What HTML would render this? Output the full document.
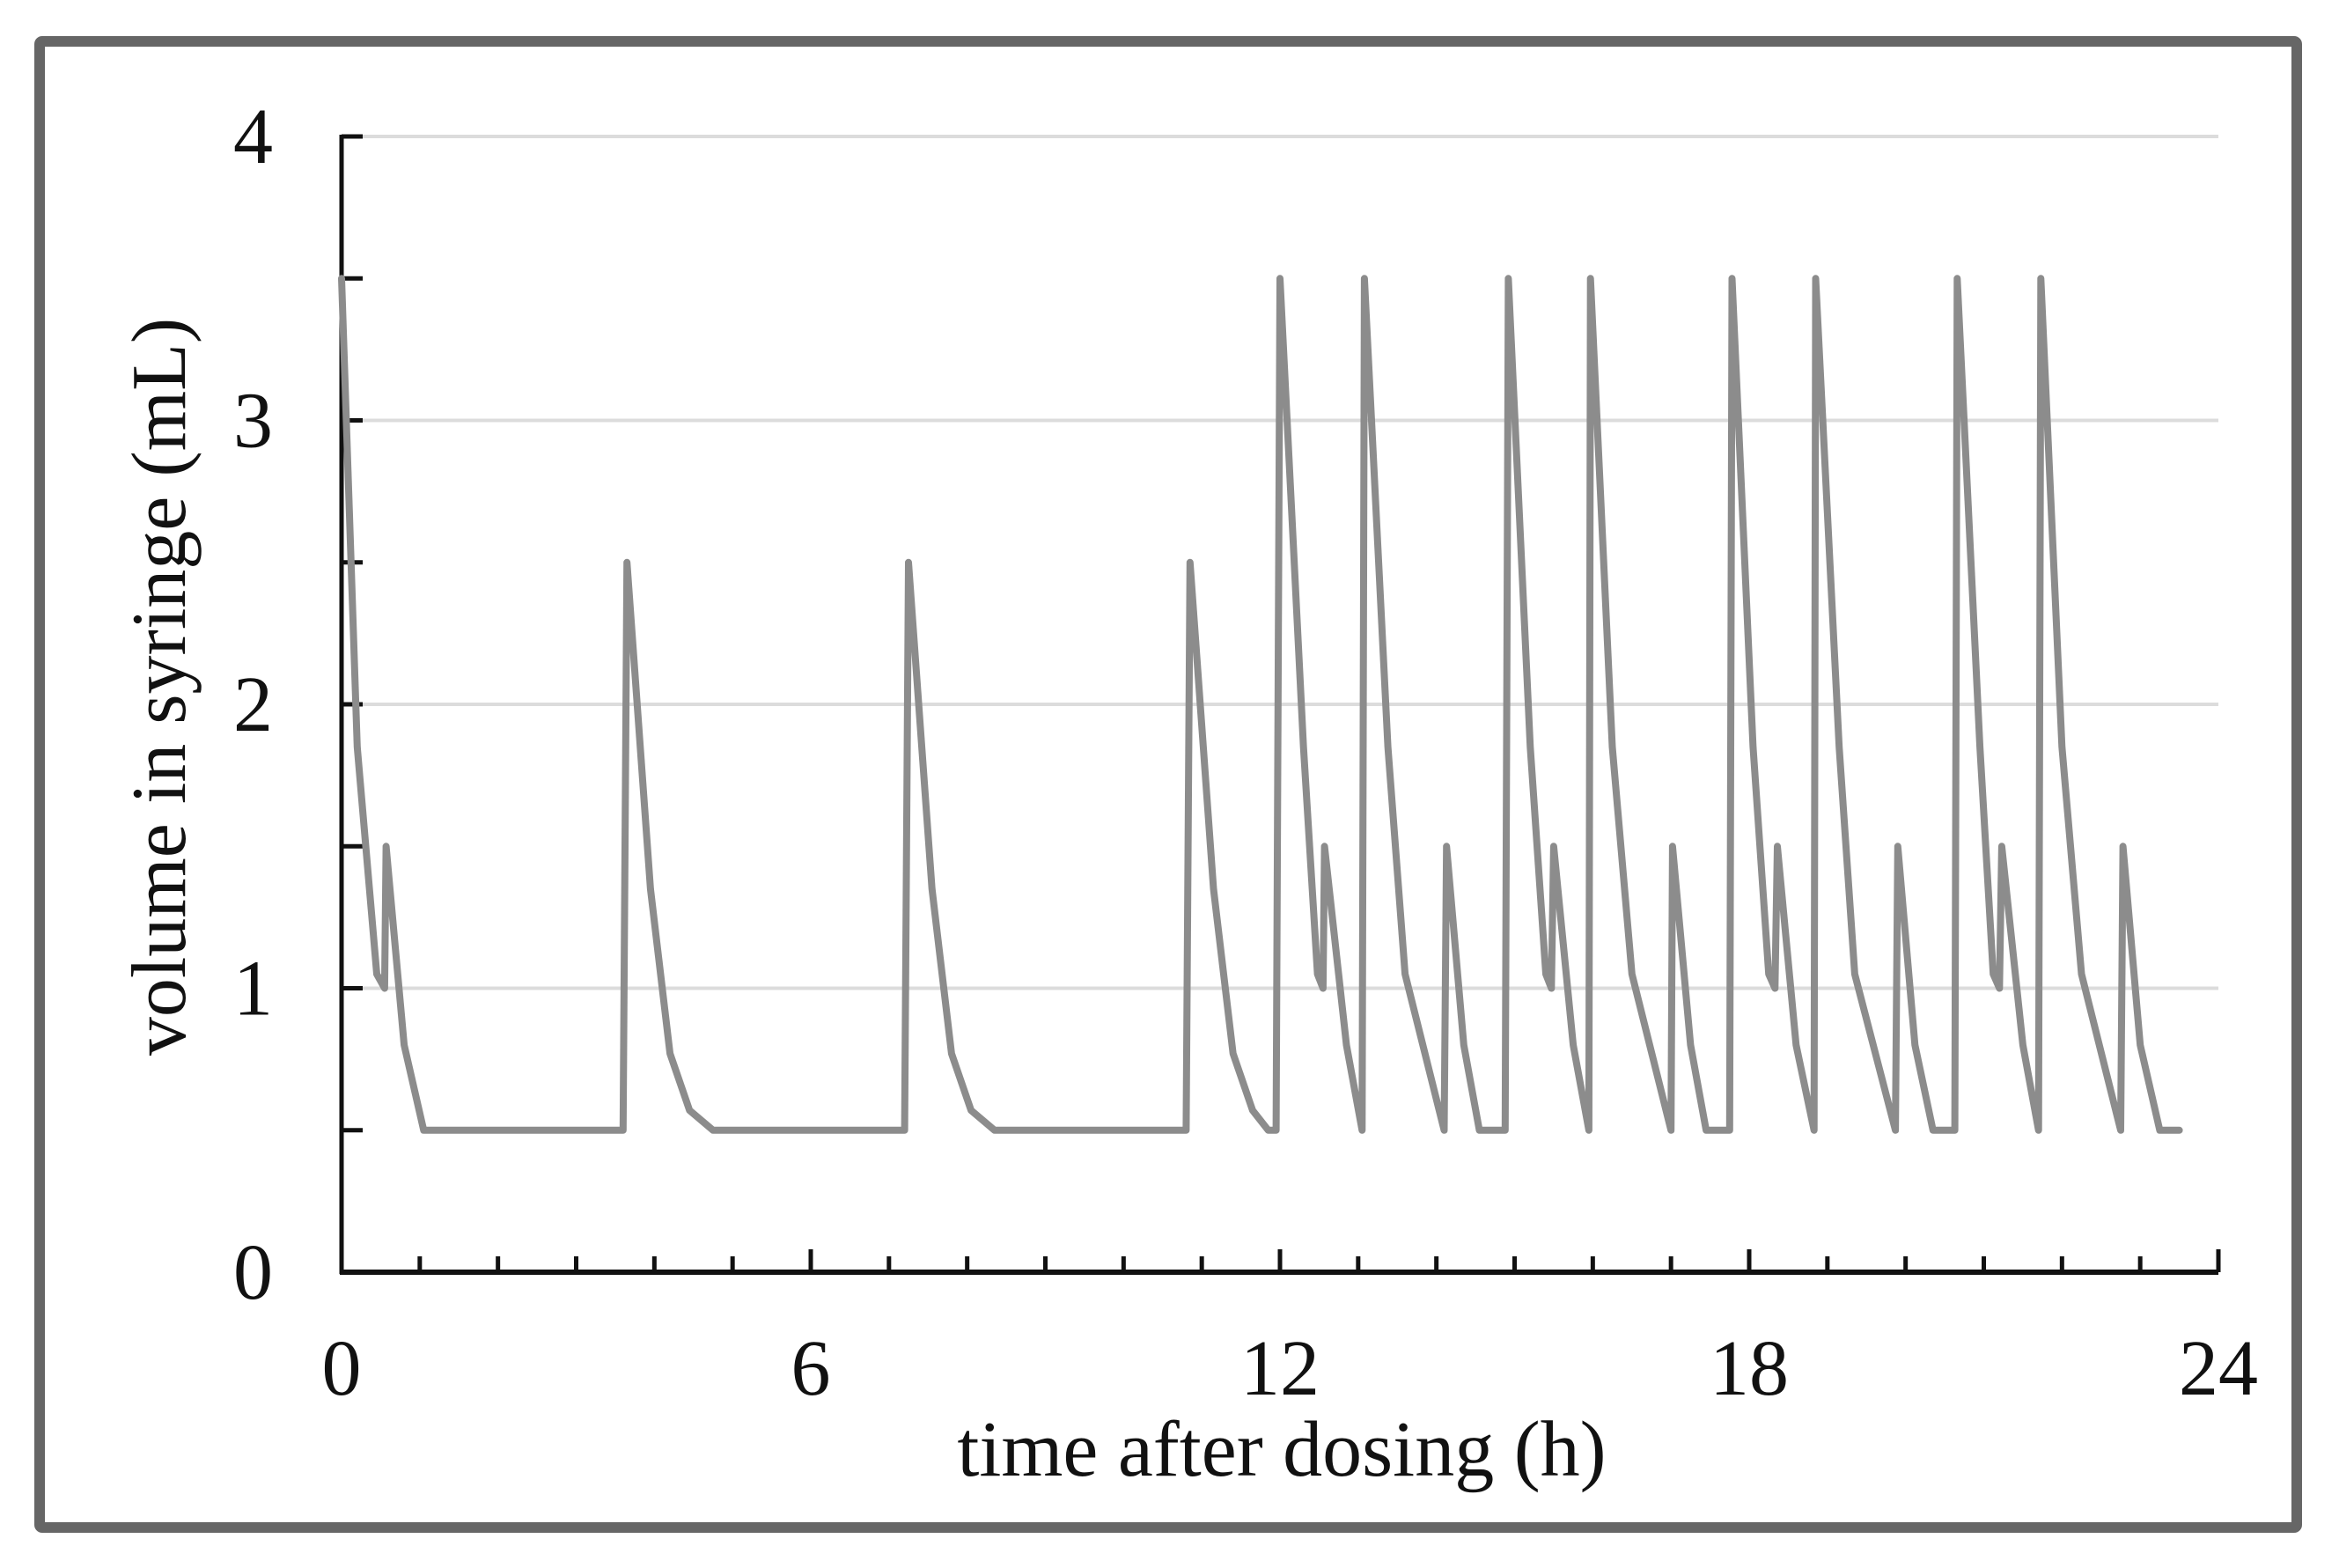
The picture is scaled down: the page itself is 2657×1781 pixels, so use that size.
<!DOCTYPE html>
<html><head><meta charset="utf-8"><style>
html,body{margin:0;padding:0;background:#fff;}
svg{display:block;}
text{font-family:"Liberation Serif",serif;fill:#111;}
</style></head><body>
<svg id="chart" width="2657" height="1781" viewBox="0 0 2657 1781" xmlns="http://www.w3.org/2000/svg">
<rect x="45" y="47" width="2564" height="1688" fill="#fff" stroke="#666" stroke-width="12" rx="3"/>
<g id="grid"></g>
<g id="axes"></g>
<g id="series"></g>
<text x="1456" y="1676" font-size="90" text-anchor="middle">time after dosing (h)</text>
<text transform="translate(210,780) rotate(-90)" font-size="88" text-anchor="middle">volume in syringe (mL)</text>
</svg>
<script>
const times = [0,0.2,0.45,0.55,0.57,0.8,1.05,
3.6,3.65,3.95,4.2,4.45,4.75,
7.2,7.25,7.55,7.8,8.05,8.35,
10.8,10.85,11.15,11.4,11.65,11.85,11.95,
12.0,12.3,12.48,12.55,12.57,12.85,13.05,
13.08,13.38,13.6,14.1,
14.13,14.35,14.55,14.88,
14.92,15.2,15.4,15.47,15.5,15.75,15.95,
15.97,16.25,16.5,17.0,
17.02,17.25,17.45,17.75,
17.78,18.05,18.25,18.33,18.36,18.6,18.83,
18.85,19.15,19.35,19.87,
19.9,20.12,20.35,20.63,
20.66,20.95,21.12,21.2,21.23,21.5,21.7,
21.73,22.0,22.25,22.75,
22.78,23.0,23.25,23.5];
const volumes = [3.5,1.85,1.05,1.0,1.5,0.8,0.5,
0.5,2.5,1.35,0.77,0.57,0.5,
0.5,2.5,1.35,0.77,0.57,0.5,
0.5,2.5,1.35,0.77,0.57,0.5,0.5,
3.5,1.85,1.05,1.0,1.5,0.8,0.5,
3.5,1.85,1.05,0.5,
1.5,0.8,0.5,0.5,
3.5,1.85,1.05,1.0,1.5,0.8,0.5,
3.5,1.85,1.05,0.5,
1.5,0.8,0.5,0.5,
3.5,1.85,1.05,1.0,1.5,0.8,0.5,
3.5,1.85,1.05,0.5,
1.5,0.8,0.5,0.5,
3.5,1.85,1.05,1.0,1.5,0.8,0.5,
3.5,1.85,1.05,0.5,
1.5,0.8,0.5,0.5];
const xTickLabels = [0,6,12,18,24];
const yTickLabels = [0,1,2,3,4];

const NS = "http://www.w3.org/2000/svg";
const X0 = 388, X1 = 2520, Y0 = 1445, Y1 = 155;
const xMax = 24, yMax = 4;
function sx(t){ return X0 + (t / xMax) * (X1 - X0); }
function sy(v){ return Y0 - (v / yMax) * (Y0 - Y1); }
function mk(tag, attrs, parent){
  const e = document.createElementNS(NS, tag);
  for (const k in attrs) e.setAttribute(k, attrs[k]);
  parent.appendChild(e);
  return e;
}
const grid = document.getElementById('grid');
const axes = document.getElementById('axes');
const series = document.getElementById('series');

yTickLabels.forEach(v => {
  if (v > 0) {
    const g = mk('line', {x1: X0, x2: X1, y1: sy(v), y2: sy(v), stroke: '#dcdcdc', 'stroke-width': 4}, grid);
    
    
  }
  const t = mk('text', {x: 310, y: sy(v) + 30, 'font-size': 90, 'text-anchor': 'end'}, axes);
  t.textContent = v;
  
  
});
for (let i = 0; i <= yMax * 2; i++) {
  const v = i / 2;
  const tk = mk('line', {x1: X0, x2: X0 + 24, y1: sy(v), y2: sy(v), stroke: '#111', 'stroke-width': 5}, axes);
  
  
}
for (let h = 0; h <= xMax; h++) {
  const len = (h % 6 === 0) ? 26 : 18;
  const tk = mk('line', {x1: sx(h), x2: sx(h), y1: Y0, y2: Y0 - len, stroke: '#111', 'stroke-width': 5}, axes);
  
  
}
xTickLabels.forEach(h => {
  const t = mk('text', {x: sx(h), y: 1584, 'font-size': 90, 'text-anchor': 'middle'}, axes);
  t.textContent = h;
  
  
});
const ya = mk('line', {x1: X0, x2: X0, y1: Y1 - 2, y2: Y0 + 2, stroke: '#111', 'stroke-width': 5}, axes);


const xa = mk('line', {x1: X0 - 2, x2: X1, y1: Y0, y2: Y0, stroke: '#111', 'stroke-width': 6}, axes);



const pts = times.map((t, i) => sx(t).toFixed(1) + ',' + sy(volumes[i]).toFixed(1)).join(' ');
const line = mk('polyline', {points: pts, fill: 'none', stroke: '#8c8c8c', 'stroke-width': 8, 'stroke-linejoin': 'round', 'stroke-linecap': 'round'}, series);


</script>
</body></html>
